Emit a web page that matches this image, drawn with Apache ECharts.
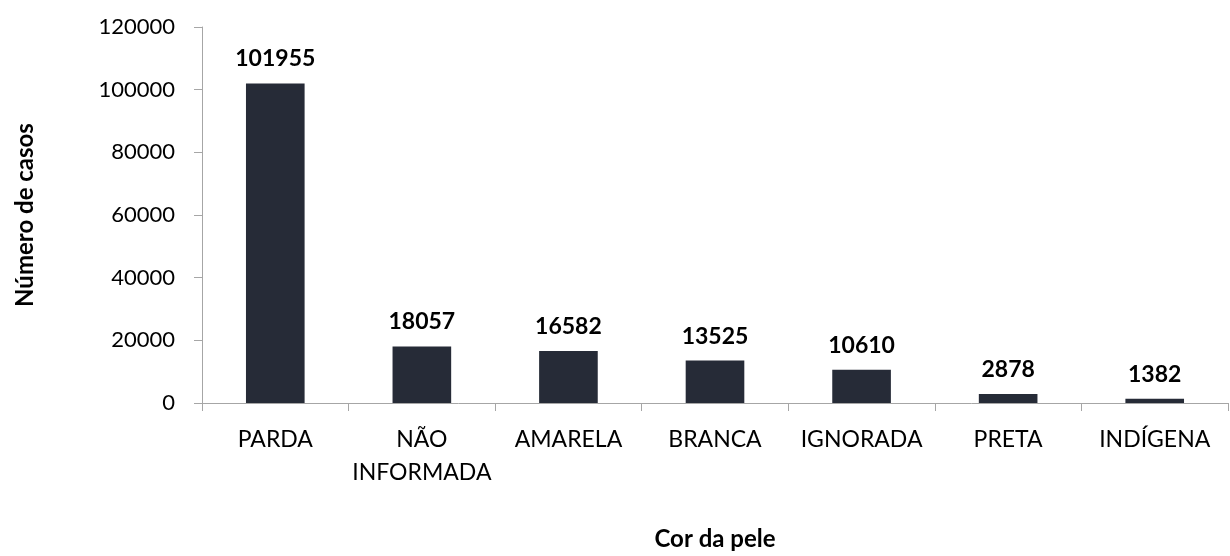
<!DOCTYPE html>
<html>
<head>
<meta charset="utf-8">
<script src="https://cdn.jsdelivr.net/npm/echarts@6/dist/echarts.min.js"></script>
<style>
  html, body { margin: 0; padding: 0; background: #fff; }
  #chart { width: 1230px; height: 556px; }
</style>
</head>
<body>
<div id="chart"></div>
<script>
// categorias (cor da pele) e número de casos
const categorias = ['PARDA', 'NÃO\nINFORMADA', 'AMARELA', 'BRANCA', 'IGNORADA', 'PRETA', 'INDÍGENA'];
const casos = [101955, 18057, 16582, 13525, 10610, 2878, 1382];
const yTicks = [0, 20000, 40000, 60000, 80000, 100000, 120000];

const fonte = 'Lato, "Open Sans", sans-serif';
const corEixo = '#a6a6a6';

const chart = echarts.init(document.getElementById('chart'));

chart.setOption({
  animation: false,
  grid: { left: 202, right: 2, top: 27, bottom: 151 },
  xAxis: {
    type: 'category',
    data: categorias,
    name: 'Cor da pele',
    nameLocation: 'middle',
    nameGap: 124,
    nameTextStyle: { fontFamily: fonte, fontSize: 24, fontWeight: 'bold', color: '#000' },
    axisLine: { lineStyle: { color: corEixo } },
    axisTick: { show: true, length: 8, lineStyle: { color: corEixo } },
    axisLabel: {
      fontFamily: fonte, fontSize: 23, color: '#000',
      margin: 20, lineHeight: 33, interval: 0
    }
  },
  yAxis: {
    type: 'value',
    min: yTicks[0],
    max: yTicks[yTicks.length - 1],
    interval: 20000,
    name: 'Número de casos',
    nameLocation: 'middle',
    nameGap: 165,
    nameRotate: 90,
    nameTextStyle: { fontFamily: fonte, fontSize: 24, fontWeight: 'bold', color: '#000' },
    axisLine: { show: true, lineStyle: { color: corEixo } },
    axisTick: { show: true, length: 8, lineStyle: { color: corEixo } },
    splitLine: { show: false },
    axisLabel: {
      fontFamily: fonte, fontSize: 22, color: '#000', margin: 27,
      formatter: v => String(v)
    }
  },
  series: [{
    type: 'bar',
    data: casos,
    barWidth: '40%',
    itemStyle: { color: '#262b37' },
    label: {
      show: true,
      position: 'top',
      distance: 13,
      fontFamily: fonte,
      fontSize: 23,
      fontWeight: 'bold',
      color: '#000'
    }
  }]
});
</script>
</body>
</html>
